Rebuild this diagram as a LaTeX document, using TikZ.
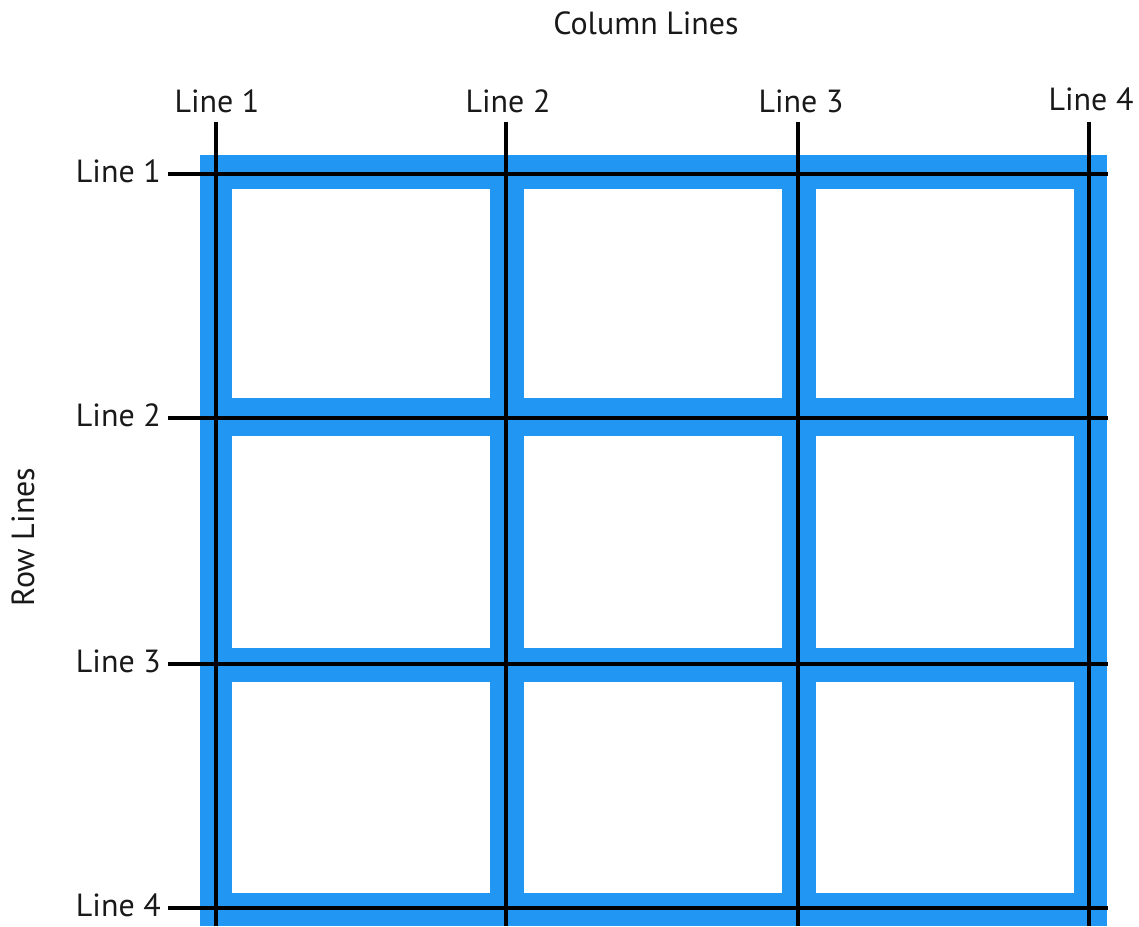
\documentclass[tikz,border=0pt]{standalone}
\usepackage{fontspec}
\setmainfont{PT Sans}
\definecolor{gridblue}{RGB}{33,150,243}
\begin{document}
\begin{tikzpicture}[x=1pt,y=-1pt,
  gridline/.style={line width=3.4pt,black},
  lab/.style={font=\fontsize{32}{38}\selectfont,inner sep=0pt,text=black!90}]
\useasboundingbox (0,0) rectangle (1139,926);
% blue grid background
\fill[gridblue] (200,155) rectangle (1107,926);
% white cells
\foreach \xa/\xb in {232/490,524/782,816/1074}
  \foreach \ya/\yb in {189/398,436/648,682/893}
    \fill[white] (\xa,\ya) rectangle (\xb,\yb);
% column line end points
\foreach \n/\x in {1/216,2/506,3/798,4/1089}{
  \coordinate (c\n t) at (\x,122);
  \coordinate (c\n b) at (\x,926);
}
% row line end points
\foreach \n/\y in {1/174,2/418,3/664,4/908}{
  \coordinate (r\n l) at (168,\y);
  \coordinate (r\n r) at (1108,\y);
}
\foreach \n in {1,2,3,4}{
  \draw[gridline] (c\n t) -- (c\n b);
  \draw[gridline] (r\n l) -- (r\n r);
}
% column labels
\node[lab,anchor=base] (cl1) at (217,112) {Line 1};
\node[lab,anchor=base] (cl2) at (508,112) {Line 2};
\node[lab,anchor=base] (cl3) at (801,112) {Line 3};
\node[lab,anchor=base] (cl4) at (1091,110) {Line 4};
% row labels
\node[lab,anchor=base east] (rl1) at (161,182) {Line 1};
\node[lab,anchor=base east] (rl2) at (161,426) {Line 2};
\node[lab,anchor=base east] (rl3) at (161,672) {Line 3};
\node[lab,anchor=base east] (rl4) at (161,916) {Line 4};
% titles
\node[lab,anchor=base] (ctitle) at (646,34) {Column Lines};
\node[lab,anchor=base,rotate=90] (rtitle) at (34,537) {Row Lines};
\end{tikzpicture}
\end{document}
